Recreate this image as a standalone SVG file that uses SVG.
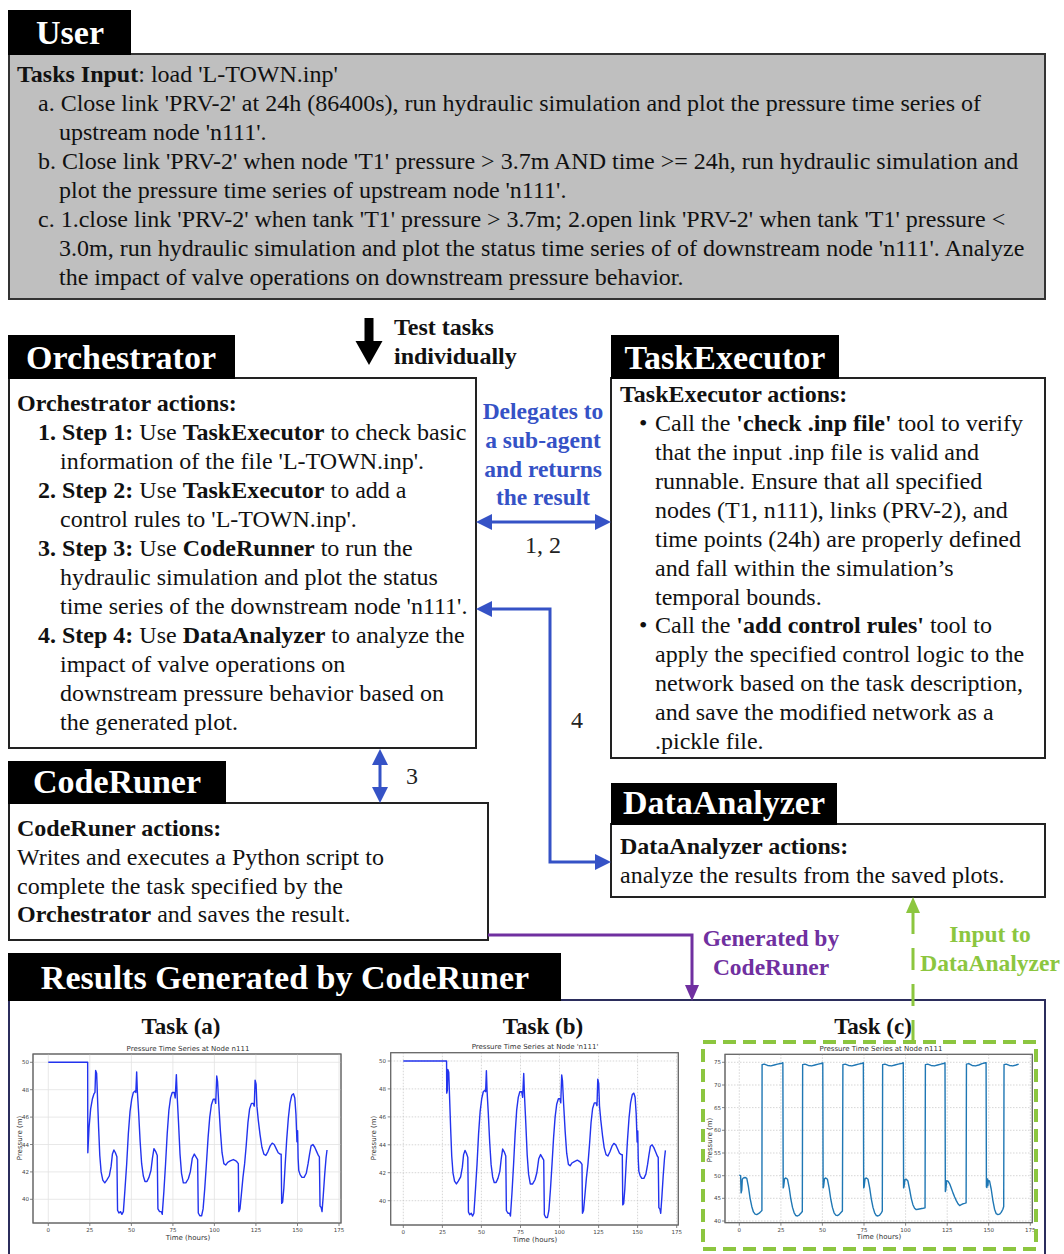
<svg xmlns="http://www.w3.org/2000/svg" xmlns:xlink="http://www.w3.org/1999/xlink" width="1064" height="1254" viewBox="0 0 1064 1254">
<style>
  .t { font-family: "Liberation Serif", "Times New Roman", serif; font-size: 24px; fill: #111; }
  .b { font-weight: bold; }
  .hd { font-family: "Liberation Serif", "Times New Roman", serif; font-size: 34px; font-weight: bold; fill: #fff; text-anchor: middle; }
  .hdbg { fill: #000; }
  .box { fill: #fff; stroke: #222; stroke-width: 2; }
  .lbl { font-family: "Liberation Serif", "Times New Roman", serif; font-size: 23.5px; font-weight: bold; text-anchor: middle; }
  .num { font-family: "Liberation Serif", "Times New Roman", serif; font-size: 24px; fill: #222; text-anchor: middle; }
  .task { font-family: "Liberation Serif", "Times New Roman", serif; font-size: 23px; font-weight: bold; fill: #111; text-anchor: middle; }
  .ptitle { font-family: "DejaVu Sans", sans-serif; font-size: 7px; fill: #333; text-anchor: middle; }
  .tick { font-family: "DejaVu Sans", sans-serif; font-size: 5.5px; fill: #444; }
  .axl { font-family: "DejaVu Sans", sans-serif; font-size: 7px; fill: #333; text-anchor: middle; }
  .frame { fill: #fff; stroke: #666; stroke-width: 1; }
  .grid { fill: none; stroke: #e2e2e2; stroke-width: 0.8; }
  .gridd { fill: none; stroke: #c4c4c4; stroke-width: 0.7; stroke-dasharray: 1.5 1.5; }
  .tk { fill: none; stroke: #666; stroke-width: 0.8; }
  .series { fill: none; stroke-width: 1.4; stroke-linejoin: round; vector-effect: non-scaling-stroke; }
  .conn { fill: none; stroke-width: 3; }
</style>
<defs>
  <marker id="head-blue" viewBox="0 0 16 16" refX="6" refY="8" markerWidth="16" markerHeight="16" markerUnits="userSpaceOnUse" orient="auto-start-reverse">
    <path d="M0,0 L16,8 L0,16 z" fill="#3552c6"/>
  </marker>
  <marker id="head-purple" viewBox="0 0 16 16" refX="6" refY="8" markerWidth="16" markerHeight="16" markerUnits="userSpaceOnUse" orient="auto">
    <path d="M0,1 L16,8 L0,15 z" fill="#7030a0"/>
  </marker>
  <marker id="head-green" viewBox="0 0 16 16" refX="6" refY="8" markerWidth="16" markerHeight="16" markerUnits="userSpaceOnUse" orient="auto">
    <path d="M0,1 L16,8 L0,15 z" fill="#8cc63f"/>
  </marker>
  <!-- shared pressure trace at n111 after the valve event (hours, 50 - pressure) -->
  <polyline id="n111-tail" class="series" points="30.3,4.8 31,6.8 31.8,8 32.8,8.6 34,8.8 35.2,8.6 36.7,8.3 37.8,7.6 38.6,6.7 39.5,6.4 40.4,6.6 41.3,6.9 41.7,10.8 42.5,11 43.5,10.9 44.3,11.1 45.2,10.9 46.2,9.2 47.2,7.4 48.2,5.2 49.2,3.6 50.2,2.7 51.2,2.2 52.2,2.1 52.7,2.2 53.2,0.7 53.6,2.1 54.4,3.7 55.3,5.8 56.2,7.4 57.2,8.3 58.2,8.7 59.4,8.7 60.6,8.4 61.8,7.9 62.7,7 63.6,6.3 64.6,6.5 65.6,6.8 66,10.7 67,10.9 68,10.9 68.6,11.1 69.6,9.4 70.6,7.4 71.6,5.2 72.6,3.5 73.6,2.6 74.6,2.2 75.8,2.2 76.4,2.6 77.1,0.9 77.6,2.5 78.4,4.4 79.3,6.7 80.2,8.1 81.3,8.8 82.8,8.8 84.3,8.5 85.5,8 86.7,7 87.9,6.7 88.9,6.9 89.9,7.1 90.3,11 91.2,11.2 92.3,11.2 93.2,10.7 94.2,9.2 95.2,7.4 96.2,5.5 97.2,4 98.2,3.1 99.3,2.7 100.3,2.7 100.8,3 101.4,1 101.9,1.4 102.6,3 103.6,5 104.6,6.6 105.7,7.4 106.8,7.5 108,7.3 109.5,7.2 111.4,7.1 113,7.2 113.8,7.3 114.4,7.4 114.7,10.9 115.4,10.7 116.2,9.7 117.2,8.4 118.2,7.4 119.2,6 120.2,4.4 121.2,3.4 122.3,3 123.4,3 124,3.2 124.5,1.3 125.1,1.6 125.6,3.2 126.4,4.2 127.5,5.3 128.6,6.2 129.8,6.7 131,6.8 132.3,6.5 133.6,6.1 134.8,5.9 136,6 137.2,6.3 138.4,6.6 139.6,6.7 140.2,6.7 140.5,10.3 141.1,10.2 141.8,9.2 142.6,7.5 143.5,5.7 144.5,4.1 145.5,3 146.6,2.4 147.6,2.3 148.4,2.6 149.1,3.8 149.7,5.8 150.1,5 150.4,7 150.8,7.9 151.6,8.2 152.7,8.4 154,8.4 155.3,8.1 156.4,7.4 157.3,6.7 158.2,6.1 159.3,6 160.4,6.2 161.5,6.5 162.6,6.8 163.2,6.9 163.6,10.5 164.3,10.6 164.8,10.9 165.5,9.8 166.4,8.2 167.2,7 167.8,6.4"/>
</defs>

<rect width="1064" height="1254" fill="#fff"/>

<!-- User -->
<g id="user">
  <rect x="9" y="54" width="1036" height="245" fill="#bfbfbf" stroke="#333" stroke-width="2"/>
  <rect class="hdbg" x="8" y="10" width="123" height="45"/>
  <text class="hd" x="70" y="44">User</text>
  <text class="t" x="17" y="82"><tspan class="b">Tasks Input</tspan>: load 'L-TOWN.inp'</text>
  <text class="t" x="38" y="111">a. Close link 'PRV-2' at 24h (86400s), run hydraulic simulation and plot the pressure time series of</text>
  <text class="t" x="59" y="140">upstream node 'n111'.</text>
  <text class="t" x="38" y="169">b. Close link 'PRV-2' when node 'T1' pressure &gt; 3.7m AND time &gt;= 24h, run hydraulic simulation and</text>
  <text class="t" x="59" y="198">plot the pressure time series of upstream node 'n111'.</text>
  <text class="t" x="38" y="227">c. 1.close link 'PRV-2' when tank 'T1' pressure &gt; 3.7m; 2.open link 'PRV-2' when tank 'T1' pressure &lt;</text>
  <text class="t" x="59" y="256">3.0m, run hydraulic simulation and plot the status time series of of downstream node 'n111'. Analyze</text>
  <text class="t" x="59" y="285">the impact of valve operations on downstream pressure behavior.</text>
</g>

<!-- Test tasks individually -->
<g id="test-tasks">
  <polygon points="364.5,318 373.5,318 373.5,341 382.5,341 369,365 355.5,341 364.5,341" fill="#000"/>
  <text class="t b" x="394" y="335">Test tasks</text>
  <text class="t b" x="394" y="364">individually</text>
</g>

<!-- Orchestrator -->
<g id="orchestrator">
  <rect class="box" x="9" y="378" width="467" height="370"/>
  <rect class="hdbg" x="8" y="335" width="227" height="44"/>
  <text class="hd" x="121" y="369">Orchestrator</text>
  <text class="t b" x="17" y="411">Orchestrator actions:</text>
  <text class="t" x="38" y="440"><tspan class="b">1. Step 1:</tspan> Use <tspan class="b">TaskExecutor</tspan> to check basic</text>
  <text class="t" x="60" y="469">information of  the file 'L-TOWN.inp'.</text>
  <text class="t" x="38" y="498"><tspan class="b">2. Step 2:</tspan> Use <tspan class="b">TaskExecutor</tspan> to add a</text>
  <text class="t" x="60" y="527">control rules to 'L-TOWN.inp'.</text>
  <text class="t" x="38" y="556"><tspan class="b">3. Step 3:</tspan> Use <tspan class="b">CodeRunner</tspan> to run the</text>
  <text class="t" x="60" y="585">hydraulic simulation and plot the status</text>
  <text class="t" x="60" y="614">time series of the downstream node 'n111'.</text>
  <text class="t" x="38" y="643"><tspan class="b">4. Step 4:</tspan> Use <tspan class="b">DataAnalyzer</tspan> to analyze the</text>
  <text class="t" x="60" y="672">impact of valve operations on</text>
  <text class="t" x="60" y="701">downstream pressure behavior based on</text>
  <text class="t" x="60" y="730">the generated plot.</text>
</g>

<!-- TaskExecutor -->
<g id="task-executor">
  <rect class="box" x="611" y="378" width="434" height="380"/>
  <rect class="hdbg" x="611" y="335" width="228" height="44"/>
  <text class="hd" x="725" y="369">TaskExecutor</text>
  <text class="t b" x="620" y="402">TaskExecutor actions:</text>
  <text class="t" x="639" y="431">•</text>
  <text class="t" x="655" y="431">Call the <tspan class="b">'check .inp file'</tspan> tool to verify</text>
  <text class="t" x="655" y="460">that the input .inp file is valid and</text>
  <text class="t" x="655" y="489">runnable. Ensure that all specified</text>
  <text class="t" x="655" y="518">nodes (T1, n111), links (PRV-2), and</text>
  <text class="t" x="655" y="547">time points (24h) are properly defined</text>
  <text class="t" x="655" y="576">and fall within the simulation’s</text>
  <text class="t" x="655" y="605">temporal bounds.</text>
  <text class="t" x="639" y="633">•</text>
  <text class="t" x="655" y="633">Call the <tspan class="b">'add control rules'</tspan> tool to</text>
  <text class="t" x="655" y="662">apply the specified control logic to the</text>
  <text class="t" x="655" y="691">network based on the task description,</text>
  <text class="t" x="655" y="720">and save the modified network as a</text>
  <text class="t" x="655" y="749">.pickle file.</text>
</g>

<!-- CodeRuner -->
<g id="code-runer">
  <rect class="box" x="9" y="803" width="479" height="137"/>
  <rect class="hdbg" x="8" y="761" width="218" height="43"/>
  <text class="hd" x="117" y="793">CodeRuner</text>
  <text class="t b" x="17" y="836">CodeRuner actions:</text>
  <text class="t" x="17" y="865">Writes and executes a Python script to</text>
  <text class="t" x="17" y="894">complete the task specified by the</text>
  <text class="t" x="17" y="922"><tspan class="b">Orchestrator</tspan> and saves the result.</text>
</g>

<!-- DataAnalyzer -->
<g id="data-analyzer">
  <rect class="box" x="611" y="824" width="434" height="73"/>
  <rect class="hdbg" x="611" y="783" width="226" height="42"/>
  <text class="hd" x="724" y="814">DataAnalyzer</text>
  <text class="t b" x="620" y="854">DataAnalyzer actions:</text>
  <text class="t" x="620" y="883">analyze the results from the saved plots.</text>
</g>

<!-- Results Generated by CodeRuner -->
<g id="results">
  <rect x="9" y="1000" width="1036" height="270" fill="#fff" stroke="#2b2d5c" stroke-width="2"/>
  <rect class="hdbg" x="8" y="953" width="553" height="48"/>
  <text class="hd" x="285" y="989">Results Generated by CodeRuner</text>
  <text class="task" x="181" y="1034">Task (a)</text>
  <text class="task" x="543" y="1034">Task (b)</text>
  <text class="task" x="873" y="1034">Task (c)</text>

  <!-- Task (a) plot -->
  <g id="plot-a">
    <text class="ptitle" x="188" y="1051">Pressure Time Series at Node n111</text>
    <rect class="frame" x="33" y="1054" width="308" height="169"/>
    <path class="grid" d="M48.3,1054V1223M89.8,1054V1223M131.4,1054V1223M172.9,1054V1223M214.4,1054V1223M255.9,1054V1223M297.5,1054V1223M339,1054V1223M33,1062.3H341M33,1089.7H341M33,1117.1H341M33,1144.5H341M33,1171.9H341M33,1199.3H341"/>
    <rect x="33" y="1054" width="308" height="169" fill="none" stroke="#666" stroke-width="1"/>
    <path class="tk" d="M48.3,1223v3M89.8,1223v3M131.4,1223v3M172.9,1223v3M214.4,1223v3M255.9,1223v3M297.5,1223v3M339,1223v3M33,1062.3h-3M33,1089.7h-3M33,1117.1h-3M33,1144.5h-3M33,1171.9h-3M33,1199.3h-3"/>
    <g class="tick" text-anchor="middle">
      <text x="48.3" y="1232">0</text><text x="89.8" y="1232">25</text><text x="131.4" y="1232">50</text><text x="172.9" y="1232">75</text><text x="214.4" y="1232">100</text><text x="255.9" y="1232">125</text><text x="297.5" y="1232">150</text><text x="339" y="1232">175</text>
    </g>
    <g class="tick" text-anchor="end">
      <text x="29" y="1064.3">50</text><text x="29" y="1091.7">48</text><text x="29" y="1119.1">46</text><text x="29" y="1146.5">44</text><text x="29" y="1173.9">42</text><text x="29" y="1201.3">40</text>
    </g>
    <text class="axl" x="188" y="1240">Time (hours)</text>
    <text class="axl" transform="translate(22,1138) rotate(-90)">Pressure (m)</text>
    <g transform="translate(48.3,1062.3) scale(1.661,13.7)" stroke="#2233ee">
      <polyline class="series" points="0,0 23.7,0 23.8,6.6 24.5,4.8 25.5,3.4 26.5,2.7 27.5,2.3 28.1,2.2 28.5,0.6 29.1,0.8 29.6,2.5 30.3,4.8"/>
      <use xlink:href="#n111-tail"/>
    </g>
  </g>

  <!-- Task (b) plot -->
  <g id="plot-b">
    <text class="ptitle" x="535" y="1049">Pressure Time Series at Node 'n111'</text>
    <rect class="frame" x="390.7" y="1052.7" width="287.6" height="172.3"/>
    <path class="gridd" d="M403.3,1052.7V1225M442.4,1052.7V1225M481.4,1052.7V1225M520.5,1052.7V1225M559.5,1052.7V1225M598.6,1052.7V1225M637.6,1052.7V1225M676.7,1052.7V1225M390.7,1061H678.3M390.7,1088.9H678.3M390.7,1116.9H678.3M390.7,1144.8H678.3M390.7,1172.7H678.3M390.7,1200.7H678.3"/>
    <rect x="390.7" y="1052.7" width="287.6" height="172.3" fill="none" stroke="#666" stroke-width="1"/>
    <path class="tk" d="M403.3,1225v3M442.4,1225v3M481.4,1225v3M520.5,1225v3M559.5,1225v3M598.6,1225v3M637.6,1225v3M676.7,1225v3M390.7,1061h-3M390.7,1088.9h-3M390.7,1116.9h-3M390.7,1144.8h-3M390.7,1172.7h-3M390.7,1200.7h-3"/>
    <g class="tick" text-anchor="middle">
      <text x="403.3" y="1234">0</text><text x="442.4" y="1234">25</text><text x="481.4" y="1234">50</text><text x="520.5" y="1234">75</text><text x="559.5" y="1234">100</text><text x="598.6" y="1234">125</text><text x="637.6" y="1234">150</text><text x="676.7" y="1234">175</text>
    </g>
    <g class="tick" text-anchor="end">
      <text x="386" y="1063">50</text><text x="386" y="1090.9">48</text><text x="386" y="1118.9">46</text><text x="386" y="1146.8">44</text><text x="386" y="1174.7">42</text><text x="386" y="1202.7">40</text>
    </g>
    <text class="axl" x="535" y="1242">Time (hours)</text>
    <text class="axl" transform="translate(376,1138) rotate(-90)">Pressure (m)</text>
    <g transform="translate(403.3,1061) scale(1.562,13.97)" stroke="#2233ee">
      <polyline class="series" points="0,0 27.7,0 27.8,2.3 28.2,2.1 28.5,0.6 29.1,0.8 29.6,2.5 30.3,4.8"/>
      <use xlink:href="#n111-tail"/>
    </g>
  </g>

  <!-- Task (c) plot -->
  <g id="plot-c">
    <text class="ptitle" x="881" y="1051">Pressure Time Series at Node n111</text>
    <rect class="frame" x="725" y="1054.3" width="307.3" height="168.4"/>
    <path class="gridd" d="M739.3,1054.3V1222.7M780.9,1054.3V1222.7M822.4,1054.3V1222.7M864,1054.3V1222.7M905.6,1054.3V1222.7M947.2,1054.3V1222.7M988.7,1054.3V1222.7M1030.3,1054.3V1222.7M725,1062.3H1032.3M725,1085H1032.3M725,1107.6H1032.3M725,1130.3H1032.3M725,1153H1032.3M725,1175.7H1032.3M725,1198.3H1032.3M725,1221H1032.3"/>
    <rect x="725" y="1054.3" width="307.3" height="168.4" fill="none" stroke="#666" stroke-width="1"/>
    <path class="tk" d="M739.3,1222.7v3M780.9,1222.7v3M822.4,1222.7v3M864,1222.7v3M905.6,1222.7v3M947.2,1222.7v3M988.7,1222.7v3M1030.3,1222.7v3M725,1062.3h-3M725,1085h-3M725,1107.6h-3M725,1130.3h-3M725,1153h-3M725,1175.7h-3M725,1198.3h-3M725,1221h-3"/>
    <g class="tick" text-anchor="middle">
      <text x="739.3" y="1231.5">0</text><text x="780.9" y="1231.5">25</text><text x="822.4" y="1231.5">50</text><text x="864" y="1231.5">75</text><text x="905.6" y="1231.5">100</text><text x="947.2" y="1231.5">125</text><text x="988.7" y="1231.5">150</text><text x="1030.3" y="1231.5">175</text>
    </g>
    <g class="tick" text-anchor="end">
      <text x="721" y="1064.3">75</text><text x="721" y="1087">70</text><text x="721" y="1109.6">65</text><text x="721" y="1132.3">60</text><text x="721" y="1155">55</text><text x="721" y="1177.7">50</text><text x="721" y="1200.3">45</text><text x="721" y="1223">40</text>
    </g>
    <text class="axl" x="879" y="1239">Time (hours)</text>
    <text class="axl" transform="translate(712,1140) rotate(-90)">Pressure (m)</text>
    <g transform="translate(739.3,1062.3) scale(1.6629,4.534)" stroke="#1f77b4">
      <polyline class="series" points="0,24.9 0.8,25 1.1,28.8 1.5,28.2 1.8,25.8 2.5,25.5 3.5,25.4 4.5,25.6 5.5,27.5 6.5,30 7.5,31.8 8.5,33 9.5,33.5 10.5,33.6 11.5,33.4 12.5,33.1 13.6,32.7 13.7,0.5 15,0.4 17,0.7 19,0.8 21,0.6 23,0.4 25.5,0.2 26.2,0.1 26.4,27.7 26.7,27.4 27.2,25.7 28,25.5 29,25.8 30,27.7 31,30.2 32,32 33,33.2 34,33.8 35,33.9 36,33.7 37,33.3 37.9,32.9 38.1,0.5 39.5,0.4 41.5,0.7 43.5,0.8 45.5,0.6 47.5,0.4 49.8,0.2 50.2,0.1 50.4,27.7 50.7,27.4 51.2,25.7 52,25.5 53,25.8 54,27.7 55,30.2 56,32 57,33.2 58,33.7 59,33.8 60,33.6 61,33.2 62,32.8 62.3,0.5 63.7,0.4 65.7,0.7 67.7,0.8 69.7,0.6 71.7,0.4 74,0.2 74.6,0.1 74.8,27.7 75.1,27.4 75.6,25.7 76.4,25.5 77.4,25.8 78.4,27.7 79.4,30.2 80.4,32 81.4,33.2 82.4,33.8 83.4,33.9 84.4,33.7 85.4,33.2 86,32.8 86.2,0.5 87.6,0.4 89.6,0.7 91.6,0.8 93.6,0.6 95.6,0.4 98,0.2 98.6,0.1 98.8,27.7 99.1,27.4 99.6,25.9 100.4,25.8 101.4,26.2 102.4,28 103.4,30 104.4,31.4 105.4,32.2 106.4,32.5 107.5,32.4 109,32.3 110.5,32.2 111.7,32.1 111.9,0.5 113.3,0.4 115.3,0.7 117.3,0.8 119.3,0.6 121.3,0.4 123.2,0.2 123.7,0.1 123.9,28.5 124.2,28.1 124.7,26.1 125.5,26.2 126.5,26.8 127.5,27.8 128.5,28.8 129.5,29.7 130.5,30.5 131.5,31.2 132.5,31.6 133.5,31.4 134.5,31.2 135.5,31.1 136.4,31 136.6,0.4 138,0.3 140,0.7 142,0.8 144,0.6 146,0.3 148,0.1 148.4,0.1 148.6,27.5 148.9,27.6 149.2,25.7 149.5,27.2 149.8,26 150.5,26.2 151.5,28 152.5,30.5 153.5,32.4 154.5,33.4 155.5,33.6 156.5,33.5 157.5,33.1 158.5,32.4 159,31.8 159.2,0.5 160.5,0.4 162.5,0.7 164.5,0.8 166.5,0.6 168,0.4"/>
    </g>
    <rect x="703" y="1042" width="333" height="207" fill="none" stroke="#8cc63f" stroke-width="4" stroke-dasharray="13 7"/>
  </g>
</g>

<!-- Connectors -->
<g id="connectors">
  <path class="conn" d="M486,522H601" stroke="#3552c6" marker-start="url(#head-blue)" marker-end="url(#head-blue)"/>
  <path class="conn" d="M486,609H550V862H601" stroke="#3552c6" marker-start="url(#head-blue)" marker-end="url(#head-blue)"/>
  <path class="conn" d="M380,759V793" stroke="#3552c6" marker-start="url(#head-blue)" marker-end="url(#head-blue)"/>
  <path class="conn" d="M488,935H692V991" stroke="#7030a0" marker-end="url(#head-purple)"/>
  <path class="conn" d="M913,1042V907" stroke="#8cc63f" stroke-dasharray="22 14" marker-end="url(#head-green)"/>

  <g fill="#3552c6" class="lbl">
    <text class="lbl" x="543" y="419" fill="#3552c6">Delegates to</text>
    <text class="lbl" x="543" y="448" fill="#3552c6">a sub-agent</text>
    <text class="lbl" x="543" y="477" fill="#3552c6">and returns</text>
    <text class="lbl" x="543" y="505" fill="#3552c6">the result</text>
  </g>
  <text class="num" x="543" y="553">1, 2</text>
  <text class="num" x="412" y="784">3</text>
  <text class="num" x="577" y="728">4</text>
  <text class="lbl" x="771" y="946" fill="#7030a0">Generated by</text>
  <text class="lbl" x="771" y="975" fill="#7030a0">CodeRuner</text>
  <text class="lbl" x="990" y="942" fill="#8cc63f">Input to</text>
  <text class="lbl" x="990" y="971" fill="#8cc63f">DataAnalyzer</text>
</g>
</svg>
